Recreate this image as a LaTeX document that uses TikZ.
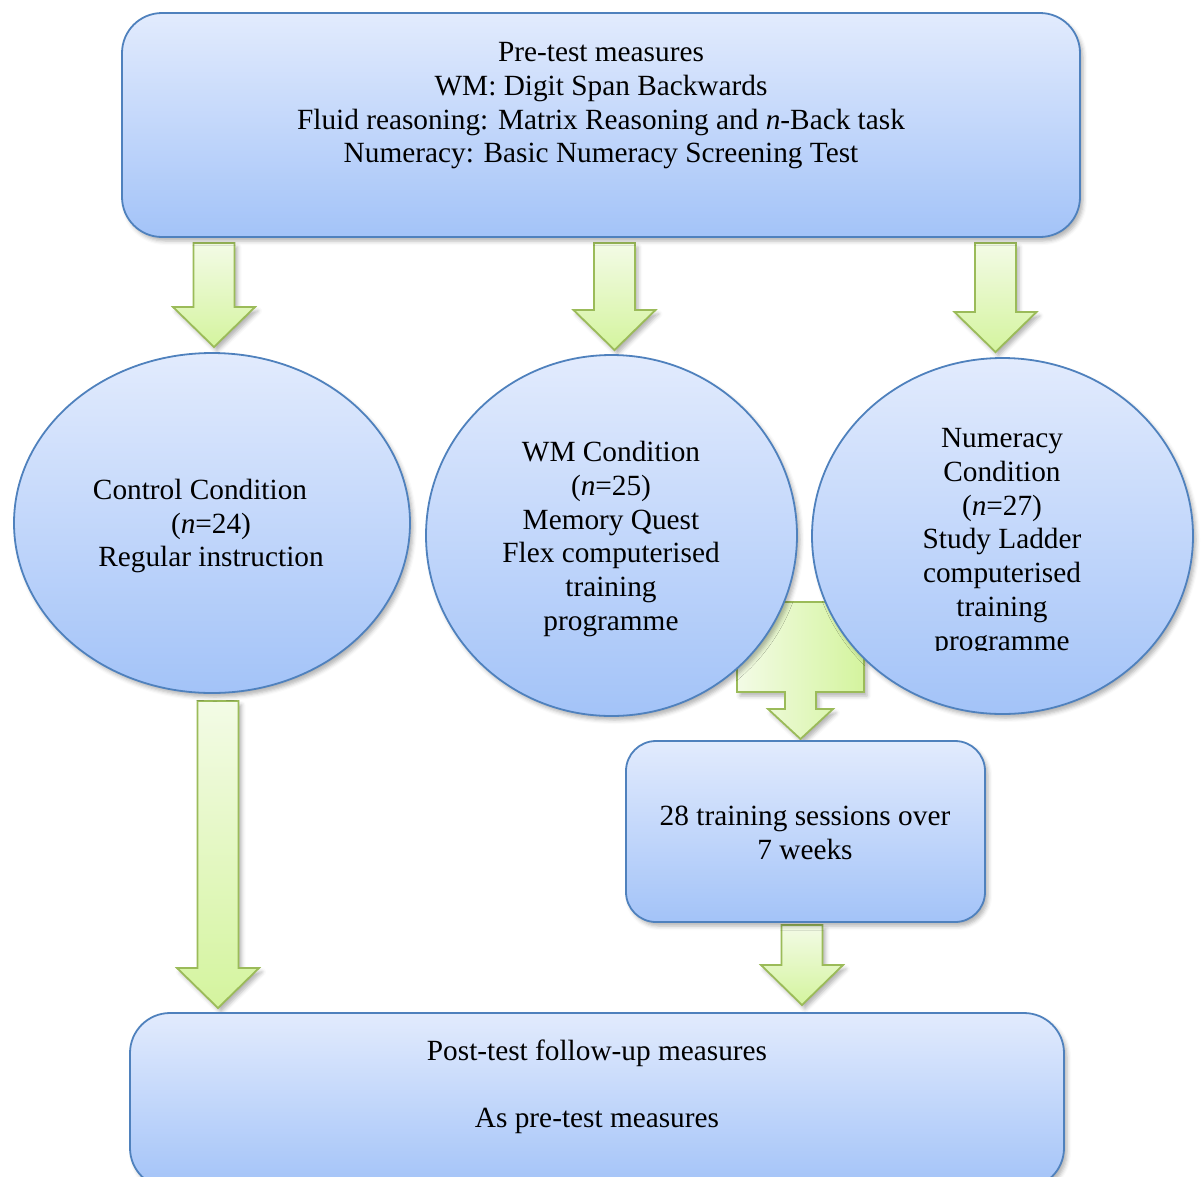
\documentclass[tikz,border=0pt]{standalone}
\usepackage{fontspec}
\setmainfont{Liberation Serif}
\usetikzlibrary{shapes.geometric,shadows.blur,calc}

\definecolor{panelTop}{RGB}{226,235,253}
\definecolor{panelBot}{RGB}{163,195,248}
\definecolor{panelEdge}{RGB}{79,129,189}
\definecolor{arrowTop}{RGB}{243,251,230}
\definecolor{arrowBot}{RGB}{212,244,158}
\definecolor{arrowEdge}{RGB}{155,187,89}

% block arrow pointing down from coordinate #1 to tip coordinate #2
\newcommand{\downblock}[2]{%
  \path[greenarrow] let \p1=(#1), \p2=(#2) in
    (\x1-20.5pt,\y1) -- (\x1+20.5pt,\y1) -- (\x1+20.5pt,\y2+40pt)
    -- (\x1+41pt,\y2+40pt) -- (\x2,\y2) -- (\x1-41pt,\y2+40pt)
    -- (\x1-20.5pt,\y2+40pt) -- cycle;}

\begin{document}
\begin{tikzpicture}[x=1pt,y=-1pt,
  shade/.style={blur shadow={shadow xshift=3pt,shadow yshift=-4pt,
      shadow blur radius=4pt,shadow opacity=30}},
  panel/.style={shade,draw=panelEdge,line width=1.8pt,
      top color=panelTop,bottom color=panelBot,inner sep=0pt},
  boxpanel/.style={panel,rectangle},
  ovalpanel/.style={panel,ellipse},
  greenarrow/.style={shade,draw=arrowEdge,line width=1.8pt,line join=miter,
      top color=arrowTop,bottom color=arrowBot},
  label/.style={align=center,inner sep=0pt,
      font=\fontsize{29.3pt}{33.7pt}\selectfont}]

\useasboundingbox (0,0) rectangle (1202,1176);
\clip (0,0) rectangle (1202,1176);

% arrow end points
\coordinate (a1s) at (214,243);   \coordinate (a1t) at (214,347);
\coordinate (a2s) at (614.5,243); \coordinate (a2t) at (614.5,350);
\coordinate (a3s) at (995.5,243); \coordinate (a3t) at (995.5,352);
\coordinate (a4s) at (218,701);   \coordinate (a4t) at (218,1008);
\coordinate (a5s) at (802,925);   \coordinate (a5t) at (802,1005);
\coordinate (a6s) at (800.5,602); \coordinate (a6t) at (800.5,739);

% arrows, drawn under the panels
\downblock{a1s}{a1t}
\downblock{a2s}{a2t}
\downblock{a3s}{a3t}
\downblock{a4s}{a4t}
\downblock{a5s}{a5t}
\path[greenarrow,left color=arrowTop,right color=arrowBot]
  let \p1=(a6s), \p2=(a6t) in
  (\x1-63.5pt,\y1) -- (\x1+63.5pt,\y1) -- (\x1+63.5pt,\y1-90pt)
  -- (\x1+15.5pt,\y1-90pt) -- (\x1+15.5pt,\y2+30pt) -- (\x1+32.5pt,\y2+30pt)
  -- (\x2,\y2) -- (\x1-32.5pt,\y2+30pt) -- (\x1-15.5pt,\y2+30pt)
  -- (\x1-15.5pt,\y1-90pt) -- (\x1-63.5pt,\y1-90pt) -- cycle;

% panels
\node[boxpanel,rounded corners=40pt,minimum width=958pt,minimum height=224pt]
  (pre) at (601,125) {};
\node[ovalpanel,minimum width=396pt,minimum height=340pt] (ctrl) at (212,523) {};
\node[ovalpanel,minimum width=371pt,minimum height=361pt] (wm) at (611.5,535.5) {};
\node[ovalpanel,minimum width=381pt,minimum height=356pt] (num) at (1002.5,536) {};
\node[boxpanel,rounded corners=30pt,minimum width=359pt,minimum height=181pt]
  (train) at (805.5,831.5) {};
\node[boxpanel,rounded corners=40pt,minimum width=934pt,minimum height=175pt]
  (post) at (597,1100.5) {};

% texts
\node[label] (preT) at (601,106) {Pre-test measures\\WM: Digit Span Backwards\\
  Fluid reasoning: Matrix Reasoning and \textit{n}-Back task\\
  Numeracy: Basic Numeracy Screening Test};
\node[label] (ctrlT) at (211,526) {Control Condition\hspace*{22pt}\\(\textit{n}=24)\\Regular instruction};
\node[label] (wmT) at (611,539) {WM Condition\\(\textit{n}=25)\\Memory Quest\\
  Flex computerised\\training\\programme};
\begin{scope}
  \clip (800,350) rectangle (1202,650);
  \node[label] (numT) at (1002,542.5) {Numeracy\\Condition\\(\textit{n}=27)\\
    Study Ladder\\computerised\\training\\programme};
\end{scope}
\node[label] (trainT) at (805,833) {28 training sessions over\\7 weeks};
\node[label] (postT) at (597,1086.5) {Post-test follow-up measures\\[33.7pt]As pre-test measures};

\end{tikzpicture}
\end{document}
